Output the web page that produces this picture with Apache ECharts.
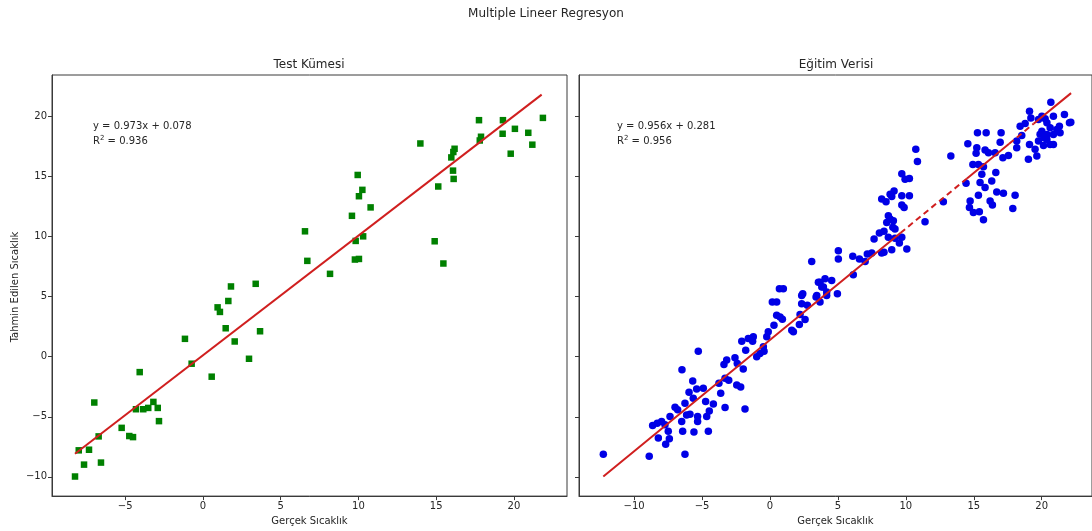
<!DOCTYPE html>
<html>
<head>
<meta charset="utf-8">
<script src="https://cdn.jsdelivr.net/npm/echarts@6/dist/echarts.min.js"></script>
<style>
html,body{margin:0;padding:0;background:#fff;}
#chart{width:1092px;height:531px;}
</style>
</head>
<body>
<div id="chart"></div>
<script>
// ---- Data ----
var mainTitle = "Multiple Lineer Regresyon";
var leftTitle = "Test Kümesi";
var rightTitle = "Eğitim Verisi";
var xName = "Gerçek Sıcaklık";
var yName = "Tahmin Edilen Sıcaklık";
var leftEq = ["y = 0.973x + 0.078", "0.936"];
var rightEq = ["y = 0.956x + 0.281", "0.956"];

var yTicks = [-10, -5, 0, 5, 10, 15, 20];
var xTicksLeft = [-5, 0, 5, 10, 15, 20];
var xTicksRight = [-10, -5, 0, 5, 10, 15, 20];

// Test set: actual (x) and predicted (y)
var testActual = [6.56, 6.71, 1.80, 3.39, 17.75, 19.29, 21.86, 20.06, 20.92, 19.27, 21.18, 17.88, 17.80, 19.79,
  13.98, 16.18, 16.10, 15.97, 16.08, 16.12, 15.13, 14.90, 15.46, 9.95, 10.25, 10.03, 10.78, 9.58, 10.30, 9.82,
  8.17, 9.77, 10.03, 0.94, 1.09, 1.63, 1.46, 2.04, 3.67, 2.96, -1.16, -0.73, 0.56, -4.07, -6.99, -3.19, -2.91,
  -3.52, -3.84, -4.31, -2.83, -5.23, -4.74, -4.50, -6.71, -7.99, -7.33, -7.65, -6.56, -8.23];
var testPred = [10.44, 7.98, 5.85, 6.07, 19.69, 19.69, 19.88, 18.97, 18.64, 18.56, 17.65, 18.31, 18.00, 16.90,
  17.75, 17.31, 17.04, 16.59, 15.49, 14.80, 14.17, 9.61, 7.76, 15.13, 13.89, 13.36, 12.43, 11.73, 10.02, 9.64,
  6.90, 8.09, 8.14, 4.11, 3.73, 4.64, 2.37, 1.27, 2.12, -0.17, 1.49, -0.58, -1.66, -1.28, -3.81, -3.76, -4.26,
  -4.26, -4.37, -4.37, -5.36, -5.92, -6.60, -6.69, -6.63, -7.79, -7.74, -8.98, -8.81, -9.97];

// Training set: actual (x) and predicted (y)
var trainActual = [-12.27, -8.89, -6.26, -8.22, -7.68, -7.41, -8.64, -8.30, -7.98, -7.73, -7.49, -7.36, -6.99, -6.80,
  -6.50, -6.43, -6.26, -6.14, -5.89, -5.60, -5.33, -5.33, -4.54, -4.66, -4.47, -4.74, -4.17, -5.96, -5.40, -4.91,
  -5.65, -5.69, -6.48, -5.28, -3.31, -1.84, -3.76, -3.63, -3.31, -3.04, -2.45, -2.16, -3.39, -3.19, -2.58, -2.41,
  -1.97, -1.79, -2.08, -1.60, -1.23, -1.28, -0.98, -0.74, -0.44, -0.49, -0.24, -0.13, 0.17, 0.49, 0.29, 0.49,
  0.74, 0.91, 0.69, 0.98, 1.60, 1.72, 2.16, 2.21, 2.58, 2.33, 2.75, 2.41, 3.39, 3.68, 4.17,
  3.93, 4.17, 4.54, 4.96, 3.68, 5.03, 5.03, 6.13, 6.09, 6.58, 7.00, 7.16, 7.49,
  8.22, 8.39, 8.96, 9.52, 10.07, 9.70, 9.20, 8.71, 7.66, 8.05, 8.39, 8.59, 8.84, 9.08, 8.71, 9.04, 9.20,
  8.22, 8.54, 8.84, 9.13, 8.96, 9.70, 10.26, 9.70, 9.87, 9.70, 9.94, 10.26, 10.73, 10.85, 11.41, 12.76, 13.31, 14.43,
  14.56, 15.27, 15.91, 15.22, 15.17, 15.83, 16.08, 16.57, 17.01, 16.94,
  14.93, 15.34, 15.71, 15.59, 16.32, 16.62, 15.83, 15.46,
  15.34, 14.73, 14.68, 14.97, 15.41, 15.71, 16.20, 16.37, 16.69, 17.18, 18.04, 17.87,
  17.14, 17.55, 18.16, 18.16, 18.53, 18.41, 18.78, 19.10, 19.20, 19.10, 19.02, 19.64, 19.51, 19.76, 19.88,
  19.76, 20.01, 20.25, 20.38, 20.67, 20.86, 20.62, 20.86, 20.38, 20.62, 20.86, 20.13, 20.38, 21.11, 21.30, 21.35,
  21.67, 22.04, 22.14, 20.01, 20.18, 3.07, 3.56, 3.81, 4.05, 2.33, 3.44];
var trainPred = [-8.12, -8.28, -8.12, -6.77, -7.29, -6.83, -5.72, -5.53, -5.39, -5.67, -6.21, -4.97, -4.20, -4.42,
  -5.39, -6.21, -3.87, -4.84, -4.78, -6.27, -5.39, -4.97, -6.21, -4.97, -4.51, -3.73, -3.93, -2.96, -2.68, -2.63,
  -3.45, -2.02, -1.08, 0.46, -4.23, -4.34, -2.21, -3.04, -1.80, -1.96, -2.35, -2.52, -0.64, -0.28, -0.08, -0.56,
  -1.03, 0.55, 1.29, 1.52, 1.66, 1.29, 0.00, 0.27, 0.46, 0.83, 1.66, 2.07, 4.56, 4.56, 2.62, 3.45,
  3.31, 3.12, 5.66, 5.66, 2.20, 2.07, 2.68, 3.51, 3.09, 4.42, 4.28, 5.25, 4.97, 4.56, 5.10,
  5.80, 5.39, 6.35, 5.24, 6.21, 8.14, 8.83, 6.82, 8.37, 8.14, 7.92, 8.56, 8.64,
  8.64, 8.70, 8.91, 9.47, 8.97, 9.94, 9.86, 9.94, 9.80, 10.30, 10.44, 11.18, 11.46, 11.32, 11.73, 10.77, 10.63,
  13.12, 12.89, 13.53, 13.80, 13.34, 13.39, 13.39, 12.62, 12.43, 15.24, 14.77, 14.83, 17.26, 16.26, 11.23, 12.89, 16.70, 14.44,
  17.73, 18.64, 18.64, 17.40, 16.93, 17.20, 16.98, 16.98, 18.64, 17.86,
  16.01, 16.01, 15.82, 15.19, 14.63, 15.33, 14.08, 14.50,
  13.45, 12.97, 12.43, 12.01, 12.06, 11.40, 12.97, 12.62, 13.72, 13.61, 13.45, 12.34,
  16.57, 16.76, 17.40, 17.95, 18.42, 19.19, 19.41, 20.43, 19.88, 17.67, 16.43, 16.70, 17.26, 17.95, 18.51,
  19.74, 20.02, 19.80, 19.47, 21.18, 20.02, 19.06, 18.50, 18.50, 17.67, 17.67, 17.59, 18.09, 18.92, 19.19, 18.64,
  20.16, 19.47, 19.52, 18.77, 18.23, 7.92, 6.21, 5.80, 6.49, 5.10, 5.10];

// Regression line endpoints
var testLineX = [-8.23, 21.78];
var testLineY = [-8.07, 21.82];
// Training regression line: solid / dashed pieces (x, y endpoints)
var trainSolidX = [[-12.27, 9.6], [14.5, 17.6], [19.4, 22.16]];
var trainSolidY = [[-9.97, 10.30], [14.84, 17.72], [19.39, 21.94]];
var trainDashX = [[9.6, 14.5], [17.6, 19.4]];
var trainDashY = [[10.30, 14.84], [17.72, 19.39]];

// ---- Build ----
function zip(a, b) { return a.map(function (v, i) { return [v, b[i]]; }); }
function segs(xs, ys) {
  var out = [];
  xs.forEach(function (sx, k) {
    if (k > 0) out.push(['-', '-']);
    out.push([sx[0], ys[k][0]]);
    out.push([sx[1], ys[k][1]]);
  });
  return out;
}
function minus(v) { return String(v).replace('-', '\u2212'); }

var FONT = 'DejaVu Sans';
var TXT = '#262626';
var AX = '#3a3a3a';
var RED = '#d01f1f';

function xAxisCfg(idx, min, max, ticks) {
  return {
    type: 'value', gridIndex: idx, min: min, max: max,
    splitLine: { show: false },
    axisLine: { show: true, onZero: false, lineStyle: { color: AX, width: 1 } },
    axisTick: { show: true, length: 4, lineStyle: { color: AX }, customValues: ticks },
    axisLabel: { show: true, color: TXT, fontSize: 10, fontFamily: FONT, margin: 5, customValues: ticks, formatter: minus },
    name: xName, nameLocation: 'middle', nameGap: 18,
    nameTextStyle: { color: TXT, fontSize: 10, fontFamily: FONT, verticalAlign: 'top' }
  };
}
function yAxisCfg(idx, showLabel) {
  return {
    type: 'value', gridIndex: idx, min: -11.6, max: 23.45,
    splitLine: { show: false },
    axisLine: { show: true, onZero: false, lineStyle: { color: AX, width: 1 } },
    axisTick: { show: true, length: 4, lineStyle: { color: AX }, customValues: yTicks },
    axisLabel: { show: showLabel, color: TXT, fontSize: 10, fontFamily: FONT, margin: 5, customValues: yTicks, formatter: minus }
  };
}

var option = {
  animation: false,
  backgroundColor: '#ffffff',
  textStyle: { fontFamily: FONT },
  grid: [
    { left: 52, top: 75, width: 515, height: 423, show: true, borderColor: AX, borderWidth: 1, backgroundColor: 'transparent' },
    { left: 579, top: 75, width: 513, height: 423, show: true, borderColor: AX, borderWidth: 1, backgroundColor: 'transparent' }
  ],
  xAxis: [xAxisCfg(0, -9.71, 23.41, xTicksLeft), xAxisCfg(1, -14.06, 23.7, xTicksRight)],
  yAxis: [yAxisCfg(0, true), yAxisCfg(1, false)],
  series: [
    { type: 'scatter', xAxisIndex: 0, yAxisIndex: 0, symbol: 'rect', symbolSize: 6.5,
      itemStyle: { color: '#008000', opacity: 1 }, data: zip(testActual, testPred), z: 2 },
    { type: 'line', xAxisIndex: 0, yAxisIndex: 0, showSymbol: false, symbol: 'none',
      lineStyle: { color: RED, width: 2 }, data: zip(testLineX, testLineY), z: 3 },
    { type: 'scatter', xAxisIndex: 1, yAxisIndex: 1, symbol: 'circle', symbolSize: 7.5,
      itemStyle: { color: '#0000e6', opacity: 1 }, data: zip(trainActual, trainPred), z: 2 },
    { type: 'line', xAxisIndex: 1, yAxisIndex: 1, showSymbol: false, symbol: 'none', connectNulls: false,
      lineStyle: { color: RED, width: 2 }, data: segs(trainSolidX, trainSolidY), z: 3 },
    { type: 'line', xAxisIndex: 1, yAxisIndex: 1, showSymbol: false, symbol: 'none', connectNulls: false,
      lineStyle: { color: RED, width: 2, type: [6, 4] }, data: segs(trainDashX, trainDashY), z: 3 }
  ],
  graphic: [
    { type: 'text', left: 'center', top: 8, style: { text: mainTitle, font: '12px "DejaVu Sans"', fill: TXT } },
    { type: 'text', x: 309, y: 65, style: { text: leftTitle, font: '12px "DejaVu Sans"', fill: TXT, align: 'center', verticalAlign: 'middle' } },
    { type: 'text', x: 836, y: 65, style: { text: rightTitle, font: '12px "DejaVu Sans"', fill: TXT, align: 'center', verticalAlign: 'middle' } },
    { type: 'text', x: 15, y: 287, rotation: Math.PI / 2,
      style: { text: yName, font: '10px "DejaVu Sans"', fill: TXT, align: 'center', verticalAlign: 'middle' } },
    { type: 'text', x: 93, y: 126, style: { text: leftEq[0], font: '10px "DejaVu Sans"', fill: TXT, align: 'left', verticalAlign: 'middle' } },
    { type: 'text', x: 93, y: 141, style: {
      text: 'R{s|2} = ' + leftEq[1], font: '10px "DejaVu Sans"', fill: TXT, align: 'left', verticalAlign: 'middle',
      rich: { s: { fontSize: 7, fontFamily: FONT, fill: TXT, verticalAlign: 'top', padding: [0, 0, 5, 0] } } } },
    { type: 'text', x: 617, y: 126, style: { text: rightEq[0], font: '10px "DejaVu Sans"', fill: TXT, align: 'left', verticalAlign: 'middle' } },
    { type: 'text', x: 617, y: 141, style: {
      text: 'R{s|2} = ' + rightEq[1], font: '10px "DejaVu Sans"', fill: TXT, align: 'left', verticalAlign: 'middle',
      rich: { s: { fontSize: 7, fontFamily: FONT, fill: TXT, verticalAlign: 'top', padding: [0, 0, 5, 0] } } } }
  ]
};

var chart = echarts.init(document.getElementById('chart'), null, { renderer: 'canvas' });
chart.setOption(option);
</script>
</body>
</html>
